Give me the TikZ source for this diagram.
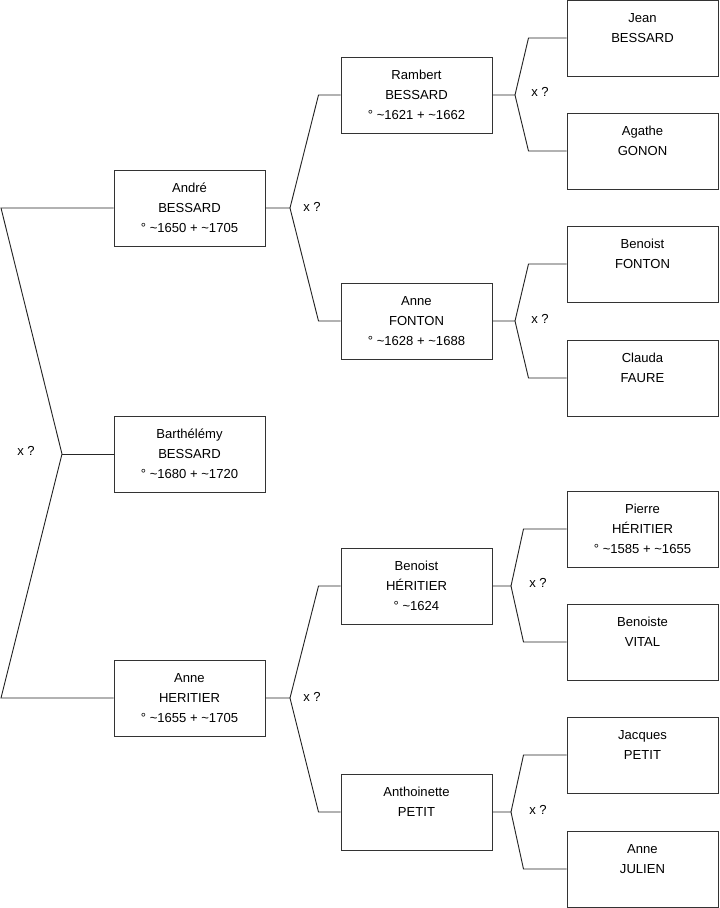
\documentclass[tikz,border=0pt]{standalone}
\usepackage{fontspec}
\setmainfont{Liberation Sans}
\usetikzlibrary{positioning}

\begin{document}
\begin{tikzpicture}[x=0.75pt, y=-0.75pt, font=\fontsize{9.8}{15}\selectfont,
  P/.style={draw=black!80, line width=0.75pt, minimum width=113.25pt, minimum height=57pt, inner sep=0pt, align=center},
  W/.style={draw=black!85, line width=0.7pt},
  X/.style={inner sep=0pt}]

\useasboundingbox (0,0) rectangle (719,908);

% generation 1 and 2
\node[P] (bart)  at (189.5,454) {Barth\'el\'emy\\BESSARD\\\textdegree{} \textasciitilde1680 + \textasciitilde1720};
\node[P] (andre) at (189.5,208) {Andr\'e\\BESSARD\\\textdegree{} \textasciitilde1650 + \textasciitilde1705};
\node[P] (anneh) at (189.5,698) {Anne\\HERITIER\\\textdegree{} \textasciitilde1655 + \textasciitilde1705};

% generation 3
\node[P] (rambert) at (416.5,95)  {Rambert\\BESSARD\\\textdegree{} \textasciitilde1621 + \textasciitilde1662};
\node[P] (annef)   at (416.5,321) {Anne\\FONTON\\\textdegree{} \textasciitilde1628 + \textasciitilde1688};
\node[P] (benh)    at (416.5,586) {Benoist\\H\'ERITIER\\\textdegree{} \textasciitilde1624};
\node[P] (anthp)   at (416.5,812) {Anthoinette\\PETIT\\\mbox{}};

% generation 4
\node[P] (jean)    at (642.5,38)  {Jean\\BESSARD\\\mbox{}};
\node[P] (agathe)  at (642.5,151) {Agathe\\GONON\\\mbox{}};
\node[P] (benf)    at (642.5,264) {Benoist\\FONTON\\\mbox{}};
\node[P] (claude)  at (642.5,378) {Clauda\\FAURE\\\mbox{}};
\node[P] (pierre)  at (642.5,529) {Pierre\\H\'ERITIER\\\textdegree{} \textasciitilde1585 + \textasciitilde1655};
\node[P] (benv)    at (642.5,642) {Benoiste\\VITAL\\\mbox{}};
\node[P] (jacques) at (642.5,755) {Jacques\\PETIT\\\mbox{}};
\node[P] (annej)   at (642.5,869) {Anne\\JULIEN\\\mbox{}};

% fork points
\coordinate (v1) at (62,454);
\coordinate (v2) at (290,208);
\coordinate (v3) at (290,698);
\coordinate (v4) at (515,95);
\coordinate (v5) at (515,321);
\coordinate (v6) at (511,586);
\coordinate (v7) at (511,812);

% root couple
\draw[W] (bart.west) -- (v1);
\draw[W] (v1) -- (1,208) -- (andre.west);
\draw[W] (v1) -- (1,698) -- (anneh.west);
\node[X] (x1) at (26,451) {x ?};

% parents of André and Anne
\draw[W] (andre.east) -- (v2) -- ([xshift=-16.5pt]rambert.west) -- (rambert.west);
\draw[W] (v2) -- ([xshift=-16.5pt]annef.west) -- (annef.west);
\node[X] (x2) at (312,207) {x ?};
\draw[W] (anneh.east) -- (v3) -- ([xshift=-16.5pt]benh.west) -- (benh.west);
\draw[W] (v3) -- ([xshift=-16.5pt]anthp.west) -- (anthp.west);
\node[X] (x3) at (312,697) {x ?};

% great-grandparents
\draw[W] (rambert.east) -- (v4) -- ([xshift=-28.5pt]jean.west) -- (jean.west);
\draw[W] (v4) -- ([xshift=-28.5pt]agathe.west) -- (agathe.west);
\node[X] (x4) at (540,92) {x ?};
\draw[W] (annef.east) -- (v5) -- ([xshift=-28.5pt]benf.west) -- (benf.west);
\draw[W] (v5) -- ([xshift=-28.5pt]claude.west) -- (claude.west);
\node[X] (x5) at (540,319) {x ?};
\draw[W] (benh.east) -- (v6) -- ([xshift=-32.25pt]pierre.west) -- (pierre.west);
\draw[W] (v6) -- ([xshift=-32.25pt]benv.west) -- (benv.west);
\node[X] (x6) at (538,583) {x ?};
\draw[W] (anthp.east) -- (v7) -- ([xshift=-32.25pt]jacques.west) -- (jacques.west);
\draw[W] (v7) -- ([xshift=-32.25pt]annej.west) -- (annej.west);
\node[X] (x7) at (538,810) {x ?};

\end{tikzpicture}
\end{document}
